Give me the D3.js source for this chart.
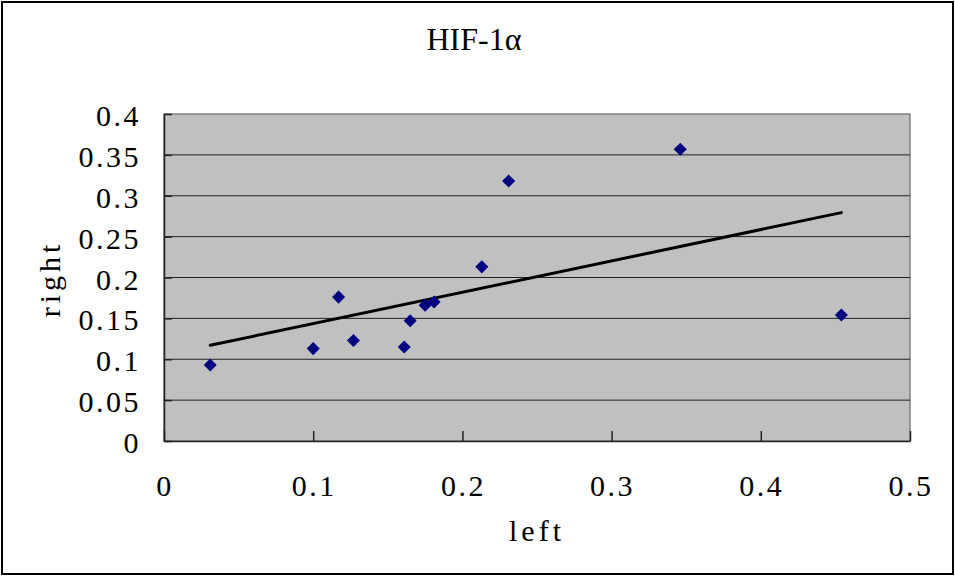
<!DOCTYPE html>
<html>
<head>
<meta charset="utf-8">
<script src="https://cdn.jsdelivr.net/npm/d3@7"></script>
<style>
  body { margin: 0; background: #fff; }
  text { font-family: "Liberation Serif", "DejaVu Serif", serif; fill: #000; }
</style>
</head>
<body>
<div id="chart"></div>
<script>
// values
const leftVals  = [0.031, 0.100, 0.117, 0.127, 0.161, 0.165, 0.175, 0.181, 0.213, 0.231, 0.346, 0.454];
const rightVals = [0.093, 0.113, 0.176, 0.123, 0.115, 0.147, 0.166, 0.170, 0.213, 0.318, 0.357, 0.154];
const xTicks = [0, 0.1, 0.2, 0.3, 0.4, 0.5];
const yTicks = [0, 0.05, 0.1, 0.15, 0.2, 0.25, 0.3, 0.35, 0.4];

const width = 955, height = 577;
const plot = {left: 164, right: 910, top: 114, bottom: 441};

const svg = d3.select("#chart").append("svg")
    .attr("width", width)
    .attr("height", height);

// outer frame
svg.append("rect")
    .attr("x", 2).attr("y", 2)
    .attr("width", width - 4).attr("height", height - 5)
    .attr("fill", "#fff")
    .attr("stroke", "#000")
    .attr("stroke-width", 2);

const x = d3.scaleLinear().domain([0, 0.5]).range([plot.left, plot.right]);
const y = d3.scaleLinear().domain([0, 0.4]).range([plot.bottom, plot.top]);

svg.append("rect")
    .attr("x", plot.left).attr("y", plot.top)
    .attr("width", plot.right - plot.left).attr("height", plot.bottom - plot.top)
    .attr("fill", "#c0c0c0")
    .attr("stroke", "#808080")
    .attr("stroke-width", 1.5);

// gridlines
svg.append("g")
  .selectAll("line")
  .data(yTicks.slice(1, -1))
  .join("line")
    .attr("x1", plot.left).attr("x2", plot.right)
    .attr("y1", d => y(d)).attr("y2", d => y(d))
    .attr("stroke", "#222")
    .attr("stroke-width", 1);

// axes
svg.append("g")
    .attr("transform", `translate(0,${plot.bottom})`)
    .call(d3.axisBottom(x).tickValues(xTicks).tickSizeInner(-10).tickSizeOuter(0).tickFormat(""))
    .call(g => g.selectAll("line, path").attr("stroke", "#222").attr("stroke-width", 1.5));

svg.append("g")
    .attr("transform", `translate(${plot.left},0)`)
    .call(d3.axisLeft(y).tickValues(yTicks).tickSizeInner(-8).tickSizeOuter(0).tickFormat(""))
    .call(g => g.selectAll("line, path").attr("stroke", "#222").attr("stroke-width", 1.5));

const fmt = d => d === 0 ? "0" : String(+d.toFixed(2));

svg.append("g")
  .selectAll("text")
  .data(yTicks)
  .join("text")
    .attr("x", 141)
    .attr("y", d => y(d) + 12)
    .attr("text-anchor", "end")
    .attr("font-size", 30)
    .attr("letter-spacing", 2.5)
    .text(fmt);

svg.append("g")
  .selectAll("text")
  .data(xTicks)
  .join("text")
    .attr("x", d => x(d) + 1)
    .attr("y", 496)
    .attr("text-anchor", "middle")
    .attr("font-size", 30)
    .attr("letter-spacing", 2.5)
    .text(fmt);

// titles
svg.append("text")
    .attr("x", 474).attr("y", 50)
    .attr("text-anchor", "middle")
    .attr("font-size", 32)
    .text("HIF-1α");

svg.append("text")
    .attr("x", 537).attr("y", 541)
    .attr("text-anchor", "middle")
    .attr("font-size", 30)
    .attr("letter-spacing", 4)
    .text("left");

svg.append("text")
    .attr("transform", "translate(60,279) rotate(-90)")
    .attr("text-anchor", "middle")
    .attr("font-size", 30)
    .attr("letter-spacing", 4)
    .text("right");

// linear trend line from the points
const mx = d3.mean(leftVals), my = d3.mean(rightVals);
const slope = d3.sum(leftVals, (v, i) => (v - mx) * (rightVals[i] - my)) /
              d3.sum(leftVals, v => (v - mx) * (v - mx));
const icpt = my - slope * mx;
const ext = d3.extent(leftVals);

svg.append("line")
    .attr("x1", x(ext[0])).attr("y1", y(icpt + slope * ext[0]))
    .attr("x2", x(ext[1])).attr("y2", y(icpt + slope * ext[1]))
    .attr("stroke", "#000")
    .attr("stroke-width", 3)
    .attr("stroke-linecap", "round");

// diamond markers
const diamond = d3.symbol().type(d3.symbolSquare).size(85);
svg.append("g")
  .selectAll("path")
  .data(leftVals.map((v, i) => [v, rightVals[i]]))
  .join("path")
    .attr("d", diamond)
    .attr("transform", d => `translate(${x(d[0])},${y(d[1])}) rotate(45)`)
    .attr("fill", "#000080");
</script>
</body>
</html>
